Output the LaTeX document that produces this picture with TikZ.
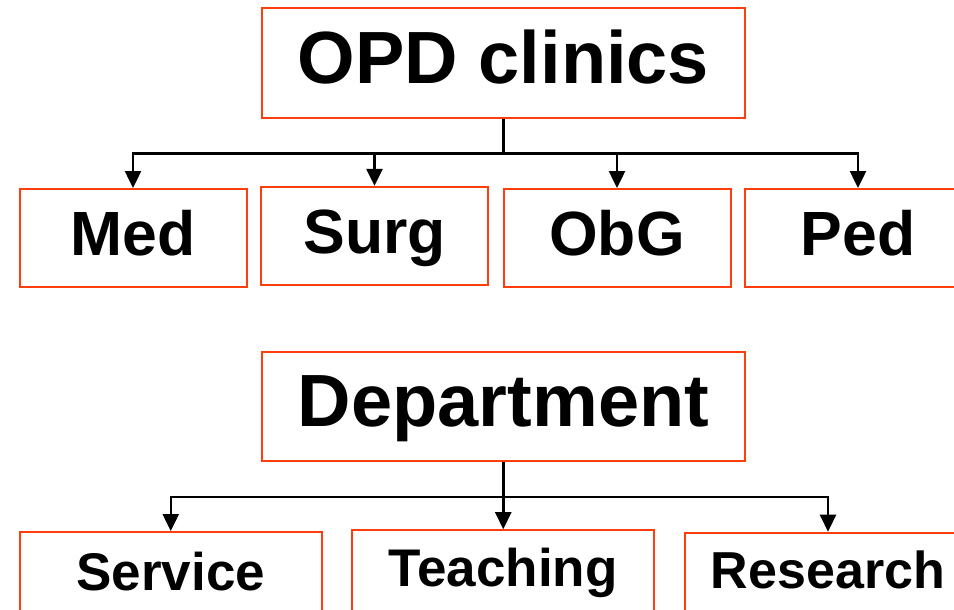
\documentclass[tikz,border=0pt]{standalone}
\usepackage{fontspec}
\setmainfont{Liberation Sans}
\usetikzlibrary{arrows.meta}
\definecolor{boxred}{RGB}{255,61,13}
\begin{document}
\begin{tikzpicture}[x=1pt,y=-1pt,
  box/.style={draw=boxred, line width=2pt, fill=white, inner sep=0pt,
    text depth=0pt, anchor=center},
  headbox/.style={box, minimum width=483pt, minimum height=110pt,
    font=\fontsize{74}{74}\selectfont\bfseries},
  unitbox/.style={box, minimum width=227pt, minimum height=98pt,
    text height=35pt, font=\fontsize{62.5}{62.5}\selectfont\bfseries},
  rolebox/.style={box, minimum width=302pt, minimum height=98pt,
    font=\fontsize{53}{53}\selectfont\bfseries},
  conn/.style={line width=2.5pt, -{Triangle[width=16pt,length=17pt]}}
]
\useasboundingbox (0,0) rectangle (954,610);
\fill[white] (0,0) rectangle (954,610);
\clip (0,0) rectangle (954,610);

% upper chart: clinics
\node[headbox, text height=40.6pt] (opd) at (503.5,63) {OPD clinics};
\node[unitbox] (med)  at (133,238)   {Med};
\node[unitbox, text height=35pt] (surg) at (374.5,235.8) {Surg};
\node[unitbox] (obg)  at (617,238)   {ObG};
\node[unitbox] (ped)  at (858,238)   {Ped};

\coordinate (bus1) at (503.5,153.5);
\draw[conn] (opd.south) -- (bus1) -| (med.north);
\draw[conn] (opd.south) -- (bus1) -| (surg.north);
\draw[conn] (opd.south) -- (bus1) -| (obg.north);
\draw[conn] (opd.south) -- (bus1) -| (ped.north);

% lower chart: department roles
\node[headbox, minimum height=109pt, text height=40.4pt] (dept) at (503.5,406.5) {Department};
\node[rolebox, text height=18pt] (serv) at (170.75,581) {Service};
\node[rolebox, text height=15pt] (teach) at (503.25,579.2) {Teaching};
\node[rolebox, minimum width=286pt, text height=13pt,
  font=\fontsize{52}{52}\selectfont\bfseries] (res) at (828,581.7) {Research};

\coordinate (bus2) at (503.5,497);
\draw[conn] (dept.south) -- (bus2) -| (serv.north);
\draw[conn] (dept.south) -- (bus2) -| (teach.north);
\draw[conn] (dept.south) -- (bus2) -| (res.north);
\end{tikzpicture}
\end{document}
